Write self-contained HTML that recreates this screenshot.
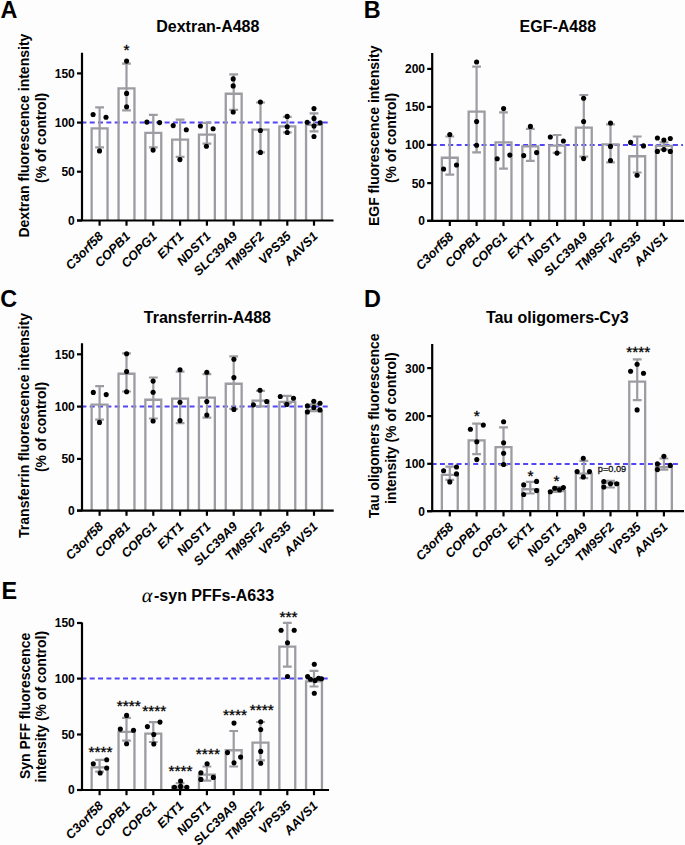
<!DOCTYPE html>
<html><head><meta charset="utf-8"><style>
html,body{margin:0;padding:0;background:#fdfdfd;}
svg{display:block;}
text{font-family:"Liberation Sans",sans-serif;}
.bar{fill:none;stroke:#9c9ca2;stroke-width:2.3;}
.err{fill:none;stroke:#9c9ca2;stroke-width:2.2;}
.dash{stroke:#5246f6;stroke-width:2.0;stroke-dasharray:5.0 3.32;}
.axis{fill:none;stroke:#000;stroke-width:2.2;}
circle{fill:#000;}
.tick{font-size:12px;font-weight:bold;text-anchor:end;}
.xl{font-size:12.7px;font-weight:bold;font-style:italic;text-anchor:end;}
.title{font-size:16px;font-weight:bold;text-anchor:middle;}
.letter{font-size:23.4px;font-weight:bold;}
.ylab{font-size:14px;font-weight:bold;text-anchor:middle;}
.star{font-size:15.5px;text-anchor:middle;stroke:#000;stroke-width:0.3px;}
.alpha{font-family:'Liberation Serif',serif;font-size:20px;}
.pv{font-size:9.2px;fill:#111;stroke:#111;stroke-width:0.3px;}
</style></head>
<body><svg width="685" height="845" viewBox="0 0 685 845">
<line x1="81.4" y1="122.6" x2="329" y2="122.6" class="dash"/>
<path d="M91.65 220.5V128.35H107.55V220.5" class="bar"/>
<path d="M118.55 220.5V88.45H134.45V220.5" class="bar"/>
<path d="M145.35 220.5V132.95H161.25V220.5" class="bar"/>
<path d="M172.15 220.5V139.65H188.05V220.5" class="bar"/>
<path d="M198.95 220.5V134.65H214.85V220.5" class="bar"/>
<path d="M225.75 220.5V93.75H241.65V220.5" class="bar"/>
<path d="M252.55 220.5V129.65H268.45V220.5" class="bar"/>
<path d="M279.35 220.5V126.45H295.25V220.5" class="bar"/>
<path d="M306.05 220.5V124.85H321.95V220.5" class="bar"/>
<path d="M99.6 107.3V147.4M95.2 107.3H104M95.2 147.4H104" class="err"/>
<path d="M126.5 63.6V110.4M122.1 63.6H130.9M122.1 110.4H130.9" class="err"/>
<path d="M153.3 114.9V147.4M148.9 114.9H157.7M148.9 147.4H157.7" class="err"/>
<path d="M180.1 119.6V156.8M175.7 119.6H184.5M175.7 156.8H184.5" class="err"/>
<path d="M206.9 122.8V143.7M202.5 122.8H211.3M202.5 143.7H211.3" class="err"/>
<path d="M233.7 74.3V109.9M229.3 74.3H238.1M229.3 109.9H238.1" class="err"/>
<path d="M260.5 102.5V152.4M256.1 102.5H264.9M256.1 152.4H264.9" class="err"/>
<path d="M287.3 116.9V132.3M282.9 116.9H291.7M282.9 132.3H291.7" class="err"/>
<path d="M314 113.4V131.3M309.6 113.4H318.4M309.6 131.3H318.4" class="err"/>
<circle cx="93.1" cy="114.5" r="2.55"/>
<circle cx="106" cy="117.2" r="2.55"/>
<circle cx="99.5" cy="150.9" r="2.55"/>
<circle cx="126.6" cy="61.1" r="2.55"/>
<circle cx="126.6" cy="93.4" r="2.55"/>
<circle cx="126.6" cy="106.7" r="2.55"/>
<text x="126.6" y="54.7" class="star">*</text>
<circle cx="146.9" cy="122.1" r="2.55"/>
<circle cx="159.6" cy="122.6" r="2.55"/>
<circle cx="153.1" cy="150.1" r="2.55"/>
<circle cx="173.2" cy="125.6" r="2.55"/>
<circle cx="186.3" cy="129.8" r="2.55"/>
<circle cx="179.9" cy="159.6" r="2.55"/>
<circle cx="200.4" cy="126" r="2.55"/>
<circle cx="213.1" cy="128.8" r="2.55"/>
<circle cx="206.4" cy="146.2" r="2.55"/>
<circle cx="233.2" cy="78.9" r="2.55"/>
<circle cx="233.2" cy="85.9" r="2.55"/>
<circle cx="233.2" cy="112" r="2.55"/>
<circle cx="260.4" cy="102" r="2.55"/>
<circle cx="260.4" cy="130.5" r="2.55"/>
<circle cx="260.4" cy="152.4" r="2.55"/>
<circle cx="287.2" cy="116.4" r="2.55"/>
<circle cx="287.2" cy="126.8" r="2.55"/>
<circle cx="287.2" cy="132.5" r="2.55"/>
<circle cx="314" cy="108.6" r="2.55"/>
<circle cx="314" cy="118.4" r="2.55"/>
<circle cx="307.2" cy="122.3" r="2.55"/>
<circle cx="320.2" cy="122.8" r="2.55"/>
<circle cx="314" cy="126" r="2.55"/>
<circle cx="314" cy="136.5" r="2.55"/>
<path d="M82 52.8V220.5M77 220.5H333.5" class="axis"/>
<path d="M77 220.5H82" class="axis"/>
<text x="74.8" y="224.9" class="tick">0</text>
<path d="M77 171.7H82" class="axis"/>
<text x="74.8" y="176.1" class="tick">50</text>
<path d="M77 122.6H82" class="axis"/>
<text x="74.8" y="127" class="tick">100</text>
<path d="M77 73.4H82" class="axis"/>
<text x="74.8" y="77.8" class="tick">150</text>
<path d="M99.6 220.5V225.7" class="axis"/>
<text transform="translate(104.1 237.1) rotate(-45)" class="xl">C3orf58</text>
<path d="M126.5 220.5V225.7" class="axis"/>
<text transform="translate(131 237.1) rotate(-45)" class="xl">COPB1</text>
<path d="M153.3 220.5V225.7" class="axis"/>
<text transform="translate(157.8 237.1) rotate(-45)" class="xl">COPG1</text>
<path d="M180.1 220.5V225.7" class="axis"/>
<text transform="translate(184.6 237.1) rotate(-45)" class="xl">EXT1</text>
<path d="M206.9 220.5V225.7" class="axis"/>
<text transform="translate(211.4 237.1) rotate(-45)" class="xl">NDST1</text>
<path d="M233.7 220.5V225.7" class="axis"/>
<text transform="translate(238.2 237.1) rotate(-45)" class="xl">SLC39A9</text>
<path d="M260.5 220.5V225.7" class="axis"/>
<text transform="translate(265 237.1) rotate(-45)" class="xl">TM9SF2</text>
<path d="M287.3 220.5V225.7" class="axis"/>
<text transform="translate(291.8 237.1) rotate(-45)" class="xl">VPS35</text>
<path d="M314 220.5V225.7" class="axis"/>
<text transform="translate(318.5 237.1) rotate(-45)" class="xl">AAVS1</text>
<text x="207.8" y="31.7" class="title">Dextran-A488</text>
<text x="0.6" y="17.8" class="letter">A</text>
<text transform="translate(29 135.6) rotate(-90)" class="ylab">Dextran fluorescence intensity</text>
<text transform="translate(45.5 137.9) rotate(-90)" class="ylab">(% of control)</text>
<line x1="431.6" y1="144.9" x2="683" y2="144.9" class="dash"/>
<path d="M441.85 220.8V157.75H457.75V220.8" class="bar"/>
<path d="M468.65 220.8V111.55H484.55V220.8" class="bar"/>
<path d="M495.55 220.8V142.35H511.45V220.8" class="bar"/>
<path d="M522.35 220.8V146.35H538.25V220.8" class="bar"/>
<path d="M549.15 220.8V145.55H565.05V220.8" class="bar"/>
<path d="M575.85 220.8V127.65H591.75V220.8" class="bar"/>
<path d="M602.55 220.8V144.35H618.45V220.8" class="bar"/>
<path d="M629.25 220.8V156.25H645.15V220.8" class="bar"/>
<path d="M655.95 220.8V145.85H671.85V220.8" class="bar"/>
<path d="M449.8 136.5V174.7M445.4 136.5H454.2M445.4 174.7H454.2" class="err"/>
<path d="M476.6 66.7V152.4M472.2 66.7H481M472.2 152.4H481" class="err"/>
<path d="M503.5 112.4V168.7M499.1 112.4H507.9M499.1 168.7H507.9" class="err"/>
<path d="M530.3 128.8V160.8M525.9 128.8H534.7M525.9 160.8H534.7" class="err"/>
<path d="M557.1 135V152.9M552.7 135H561.5M552.7 152.9H561.5" class="err"/>
<path d="M583.8 95V156.6M579.4 95H588.2M579.4 156.6H588.2" class="err"/>
<path d="M610.5 124.3V162.3M606.1 124.3H614.9M606.1 162.3H614.9" class="err"/>
<path d="M637.2 136.5V172.5M632.8 136.5H641.6M632.8 172.5H641.6" class="err"/>
<path d="M663.9 142.4V149.6M659.5 142.4H668.3M659.5 149.6H668.3" class="err"/>
<circle cx="449.8" cy="134.5" r="2.55"/>
<circle cx="443.6" cy="169" r="2.55"/>
<circle cx="456.5" cy="165" r="2.55"/>
<circle cx="476.6" cy="62" r="2.55"/>
<circle cx="476.6" cy="121.6" r="2.55"/>
<circle cx="476.6" cy="145.2" r="2.55"/>
<circle cx="503.6" cy="108.6" r="2.55"/>
<circle cx="497.2" cy="158.8" r="2.55"/>
<circle cx="509.8" cy="155.1" r="2.55"/>
<circle cx="530.4" cy="126.4" r="2.55"/>
<circle cx="523.7" cy="155.6" r="2.55"/>
<circle cx="536.6" cy="152.6" r="2.55"/>
<circle cx="550.3" cy="137" r="2.55"/>
<circle cx="563.4" cy="141" r="2.55"/>
<circle cx="557" cy="153.1" r="2.55"/>
<circle cx="583.6" cy="98.3" r="2.55"/>
<circle cx="583.6" cy="121.5" r="2.55"/>
<circle cx="583.6" cy="158.6" r="2.55"/>
<circle cx="610.5" cy="123" r="2.55"/>
<circle cx="610.5" cy="146.4" r="2.55"/>
<circle cx="610.5" cy="160.5" r="2.55"/>
<circle cx="630.6" cy="142.4" r="2.55"/>
<circle cx="643.5" cy="145.9" r="2.55"/>
<circle cx="637.1" cy="175.2" r="2.55"/>
<circle cx="657.4" cy="138" r="2.55"/>
<circle cx="663.9" cy="140" r="2.55"/>
<circle cx="670.3" cy="138.5" r="2.55"/>
<circle cx="657.4" cy="151.4" r="2.55"/>
<circle cx="663.9" cy="149.6" r="2.55"/>
<circle cx="670.3" cy="151.4" r="2.55"/>
<path d="M432.2 52.9V220.8M427.2 220.8H684" class="axis"/>
<path d="M427.2 220.8H432.2" class="axis"/>
<text x="425" y="225.2" class="tick">0</text>
<path d="M427.2 183.1H432.2" class="axis"/>
<text x="425" y="187.5" class="tick">50</text>
<path d="M427.2 144.9H432.2" class="axis"/>
<text x="425" y="149.3" class="tick">100</text>
<path d="M427.2 106.9H432.2" class="axis"/>
<text x="425" y="111.3" class="tick">150</text>
<path d="M427.2 68.9H432.2" class="axis"/>
<text x="425" y="73.3" class="tick">200</text>
<path d="M449.8 220.8V226" class="axis"/>
<text transform="translate(454.3 237.4) rotate(-45)" class="xl">C3orf58</text>
<path d="M476.6 220.8V226" class="axis"/>
<text transform="translate(481.1 237.4) rotate(-45)" class="xl">COPB1</text>
<path d="M503.5 220.8V226" class="axis"/>
<text transform="translate(508 237.4) rotate(-45)" class="xl">COPG1</text>
<path d="M530.3 220.8V226" class="axis"/>
<text transform="translate(534.8 237.4) rotate(-45)" class="xl">EXT1</text>
<path d="M557.1 220.8V226" class="axis"/>
<text transform="translate(561.6 237.4) rotate(-45)" class="xl">NDST1</text>
<path d="M583.8 220.8V226" class="axis"/>
<text transform="translate(588.3 237.4) rotate(-45)" class="xl">SLC39A9</text>
<path d="M610.5 220.8V226" class="axis"/>
<text transform="translate(615 237.4) rotate(-45)" class="xl">TM9SF2</text>
<path d="M637.2 220.8V226" class="axis"/>
<text transform="translate(641.7 237.4) rotate(-45)" class="xl">VPS35</text>
<path d="M663.9 220.8V226" class="axis"/>
<text transform="translate(668.4 237.4) rotate(-45)" class="xl">AAVS1</text>
<text x="557.8" y="31.7" class="title">EGF-A488</text>
<text x="363.8" y="17.8" class="letter">B</text>
<text transform="translate(379.1 135.8) rotate(-90)" class="ylab">EGF fluorescence intensity</text>
<text transform="translate(395.8 138) rotate(-90)" class="ylab">(% of control)</text>
<line x1="81.4" y1="406.5" x2="329" y2="406.5" class="dash"/>
<path d="M91.65 510.6V404.65H107.55V510.6" class="bar"/>
<path d="M118.55 510.6V373.75H134.45V510.6" class="bar"/>
<path d="M145.35 510.6V399.75H161.25V510.6" class="bar"/>
<path d="M172.15 510.6V398.65H188.05V510.6" class="bar"/>
<path d="M198.95 510.6V397.65H214.85V510.6" class="bar"/>
<path d="M225.75 510.6V383.75H241.65V510.6" class="bar"/>
<path d="M252.55 510.6V400.65H268.45V510.6" class="bar"/>
<path d="M279.35 510.6V401.85H295.25V510.6" class="bar"/>
<path d="M306.05 510.6V411.05H321.95V510.6" class="bar"/>
<path d="M99.6 386.2V419.7M95.2 386.2H104M95.2 419.7H104" class="err"/>
<path d="M126.5 353.4V391.5M122.1 353.4H130.9M122.1 391.5H130.9" class="err"/>
<path d="M153.3 377.5V418.5M148.9 377.5H157.7M148.9 418.5H157.7" class="err"/>
<path d="M180.1 371.7V423.1M175.7 371.7H184.5M175.7 423.1H184.5" class="err"/>
<path d="M206.9 374.2V417.6M202.5 374.2H211.3M202.5 417.6H211.3" class="err"/>
<path d="M233.7 356.3V408.9M229.3 356.3H238.1M229.3 408.9H238.1" class="err"/>
<path d="M260.5 390.8V406.4M256.1 390.8H264.9M256.1 406.4H264.9" class="err"/>
<path d="M287.3 395.8V403.2M282.9 395.8H291.7M282.9 403.2H291.7" class="err"/>
<path d="M314 404.4V410.1M309.6 404.4H318.4M309.6 410.1H318.4" class="err"/>
<circle cx="93.3" cy="392.4" r="2.55"/>
<circle cx="106.2" cy="394.6" r="2.55"/>
<circle cx="99.5" cy="422.4" r="2.55"/>
<circle cx="126.6" cy="353.7" r="2.55"/>
<circle cx="126.6" cy="371.6" r="2.55"/>
<circle cx="126.6" cy="391.8" r="2.55"/>
<circle cx="153.1" cy="381.1" r="2.55"/>
<circle cx="153.1" cy="392.3" r="2.55"/>
<circle cx="153.1" cy="421" r="2.55"/>
<circle cx="180" cy="369.7" r="2.55"/>
<circle cx="180" cy="402.2" r="2.55"/>
<circle cx="180" cy="420.6" r="2.55"/>
<circle cx="206.8" cy="372.2" r="2.55"/>
<circle cx="206.8" cy="401.5" r="2.55"/>
<circle cx="206.8" cy="415.1" r="2.55"/>
<circle cx="233.9" cy="359.3" r="2.55"/>
<circle cx="233.9" cy="377.6" r="2.55"/>
<circle cx="233.9" cy="409.4" r="2.55"/>
<circle cx="260" cy="390.3" r="2.55"/>
<circle cx="253.5" cy="404.9" r="2.55"/>
<circle cx="266.7" cy="401.5" r="2.55"/>
<circle cx="280.3" cy="396.5" r="2.55"/>
<circle cx="293.5" cy="398.2" r="2.55"/>
<circle cx="286.8" cy="404.4" r="2.55"/>
<circle cx="313.8" cy="401.2" r="2.55"/>
<circle cx="307.4" cy="405.9" r="2.55"/>
<circle cx="320" cy="403.2" r="2.55"/>
<circle cx="313.8" cy="407.4" r="2.55"/>
<circle cx="307.4" cy="411.9" r="2.55"/>
<circle cx="320" cy="409.9" r="2.55"/>
<path d="M82 343.3V510.6M77 510.6H333.7" class="axis"/>
<path d="M77 510.6H82" class="axis"/>
<text x="74.8" y="515" class="tick">0</text>
<path d="M77 458.9H82" class="axis"/>
<text x="74.8" y="463.3" class="tick">50</text>
<path d="M77 406.6H82" class="axis"/>
<text x="74.8" y="411" class="tick">100</text>
<path d="M77 354.3H82" class="axis"/>
<text x="74.8" y="358.7" class="tick">150</text>
<path d="M99.6 510.6V515.8" class="axis"/>
<text transform="translate(104.1 527.2) rotate(-45)" class="xl">C3orf58</text>
<path d="M126.5 510.6V515.8" class="axis"/>
<text transform="translate(131 527.2) rotate(-45)" class="xl">COPB1</text>
<path d="M153.3 510.6V515.8" class="axis"/>
<text transform="translate(157.8 527.2) rotate(-45)" class="xl">COPG1</text>
<path d="M180.1 510.6V515.8" class="axis"/>
<text transform="translate(184.6 527.2) rotate(-45)" class="xl">EXT1</text>
<path d="M206.9 510.6V515.8" class="axis"/>
<text transform="translate(211.4 527.2) rotate(-45)" class="xl">NDST1</text>
<path d="M233.7 510.6V515.8" class="axis"/>
<text transform="translate(238.2 527.2) rotate(-45)" class="xl">SLC39A9</text>
<path d="M260.5 510.6V515.8" class="axis"/>
<text transform="translate(265 527.2) rotate(-45)" class="xl">TM9SF2</text>
<path d="M287.3 510.6V515.8" class="axis"/>
<text transform="translate(291.8 527.2) rotate(-45)" class="xl">VPS35</text>
<path d="M314 510.6V515.8" class="axis"/>
<text transform="translate(318.5 527.2) rotate(-45)" class="xl">AAVS1</text>
<text x="207.4" y="322.7" class="title">Transferrin-A488</text>
<text x="0.3" y="306.9" class="letter">C</text>
<text transform="translate(29 425.5) rotate(-90)" class="ylab">Transferrin fluorescence intensity</text>
<text transform="translate(45.6 427) rotate(-90)" class="ylab">(% of control)</text>
<line x1="431.6" y1="463.9" x2="679" y2="463.9" class="dash"/>
<path d="M441.85 511.2V474.85H457.75V511.2" class="bar"/>
<path d="M468.65 511.2V440.35H484.55V511.2" class="bar"/>
<path d="M495.55 511.2V447.05H511.45V511.2" class="bar"/>
<path d="M522.35 511.2V489.25H538.25V511.2" class="bar"/>
<path d="M549.15 511.2V491.15H565.05V511.2" class="bar"/>
<path d="M575.85 511.2V473.65H591.75V511.2" class="bar"/>
<path d="M602.55 511.2V483.15H618.45V511.2" class="bar"/>
<path d="M629.25 511.2V381.55H645.15V511.2" class="bar"/>
<path d="M655.95 511.2V467.05H671.85V511.2" class="bar"/>
<path d="M449.8 466.7V479.9M445.4 466.7H454.2M445.4 479.9H454.2" class="err"/>
<path d="M476.6 423.6V454.1M472.2 423.6H481M472.2 454.1H481" class="err"/>
<path d="M503.5 427.3V465M499.1 427.3H507.9M499.1 465H507.9" class="err"/>
<path d="M530.3 481.9V493.5M525.9 481.9H534.7M525.9 493.5H534.7" class="err"/>
<path d="M557.1 487V492M552.7 487H561.5M552.7 492H561.5" class="err"/>
<path d="M583.8 460.8V478.2M579.4 460.8H588.2M579.4 478.2H588.2" class="err"/>
<path d="M610.5 480.8V487.5M606.1 480.8H614.9M606.1 487.5H614.9" class="err"/>
<path d="M637.2 359.3V400.2M632.8 359.3H641.6M632.8 400.2H641.6" class="err"/>
<path d="M663.9 458.5V469.6M659.5 458.5H668.3M659.5 469.6H668.3" class="err"/>
<circle cx="443.6" cy="470.7" r="2.55"/>
<circle cx="456.5" cy="467" r="2.55"/>
<circle cx="456.5" cy="473.9" r="2.55"/>
<circle cx="449.8" cy="481.9" r="2.55"/>
<circle cx="470.4" cy="429.3" r="2.55"/>
<circle cx="483.3" cy="425.1" r="2.55"/>
<circle cx="476.8" cy="441.7" r="2.55"/>
<circle cx="476.8" cy="459.6" r="2.55"/>
<text x="476.8" y="420.9" class="star">*</text>
<circle cx="503.6" cy="421.8" r="2.55"/>
<circle cx="503.6" cy="442.7" r="2.55"/>
<circle cx="503.6" cy="453.3" r="2.55"/>
<circle cx="503.6" cy="464.5" r="2.55"/>
<circle cx="523.7" cy="484.9" r="2.55"/>
<circle cx="536.6" cy="481.4" r="2.55"/>
<circle cx="536.6" cy="490.6" r="2.55"/>
<circle cx="523.7" cy="494.5" r="2.55"/>
<text x="530.4" y="481.2" class="star">*</text>
<circle cx="550.3" cy="491.8" r="2.55"/>
<circle cx="554.7" cy="488.3" r="2.55"/>
<circle cx="559.5" cy="489.8" r="2.55"/>
<circle cx="563.4" cy="487.6" r="2.55"/>
<text x="556.5" y="486.2" class="star">*</text>
<circle cx="583.3" cy="458.3" r="2.55"/>
<circle cx="577.1" cy="471.5" r="2.55"/>
<circle cx="589.5" cy="471.5" r="2.55"/>
<circle cx="583.3" cy="476.9" r="2.55"/>
<circle cx="603.8" cy="481.5" r="2.55"/>
<circle cx="610.5" cy="483.8" r="2.55"/>
<circle cx="616.7" cy="483.8" r="2.55"/>
<circle cx="603.8" cy="487" r="2.55"/>
<circle cx="637.1" cy="364.2" r="2.55"/>
<circle cx="630.6" cy="371.2" r="2.55"/>
<circle cx="643.5" cy="373.2" r="2.55"/>
<circle cx="637.1" cy="409.9" r="2.55"/>
<text x="638.3" y="356.7" class="star">****</text>
<circle cx="663.9" cy="456.2" r="2.55"/>
<circle cx="657.4" cy="463.9" r="2.55"/>
<circle cx="670.3" cy="465.4" r="2.55"/>
<circle cx="657.4" cy="469.6" r="2.55"/>
<path d="M432.2 344V511.2M427.2 511.2H684" class="axis"/>
<path d="M427.2 511.2H432.2" class="axis"/>
<text x="425" y="515.6" class="tick">0</text>
<path d="M427.2 463.8H432.2" class="axis"/>
<text x="425" y="468.2" class="tick">100</text>
<path d="M427.2 416.1H432.2" class="axis"/>
<text x="425" y="420.5" class="tick">200</text>
<path d="M427.2 368.1H432.2" class="axis"/>
<text x="425" y="372.5" class="tick">300</text>
<path d="M449.8 511.2V516.4" class="axis"/>
<text transform="translate(454.3 527.8) rotate(-45)" class="xl">C3orf58</text>
<path d="M476.6 511.2V516.4" class="axis"/>
<text transform="translate(481.1 527.8) rotate(-45)" class="xl">COPB1</text>
<path d="M503.5 511.2V516.4" class="axis"/>
<text transform="translate(508 527.8) rotate(-45)" class="xl">COPG1</text>
<path d="M530.3 511.2V516.4" class="axis"/>
<text transform="translate(534.8 527.8) rotate(-45)" class="xl">EXT1</text>
<path d="M557.1 511.2V516.4" class="axis"/>
<text transform="translate(561.6 527.8) rotate(-45)" class="xl">NDST1</text>
<path d="M583.8 511.2V516.4" class="axis"/>
<text transform="translate(588.3 527.8) rotate(-45)" class="xl">SLC39A9</text>
<path d="M610.5 511.2V516.4" class="axis"/>
<text transform="translate(615 527.8) rotate(-45)" class="xl">TM9SF2</text>
<path d="M637.2 511.2V516.4" class="axis"/>
<text transform="translate(641.7 527.8) rotate(-45)" class="xl">VPS35</text>
<path d="M663.9 511.2V516.4" class="axis"/>
<text transform="translate(668.4 527.8) rotate(-45)" class="xl">AAVS1</text>
<text x="557.3" y="322.7" class="title">Tau oligomers-Cy3</text>
<text x="364" y="306.9" class="letter">D</text>
<text transform="translate(379.2 425.9) rotate(-90)" class="ylab">Tau oligomers fluorescence</text>
<text transform="translate(395.8 428.2) rotate(-90)" class="ylab">intensity (% of control)</text>
<line x1="81.4" y1="678.4" x2="330" y2="678.4" class="dash"/>
<path d="M91.65 790V767.45H107.55V790" class="bar"/>
<path d="M118.55 790V731.95H134.45V790" class="bar"/>
<path d="M145.35 790V733.65H161.25V790" class="bar"/>
<path d="M172.15 790V786.75H188.05V790" class="bar"/>
<path d="M198.95 790V774.55H214.85V790" class="bar"/>
<path d="M225.75 790V750.25H241.65V790" class="bar"/>
<path d="M252.55 790V742.65H268.45V790" class="bar"/>
<path d="M279.35 790V646.65H295.25V790" class="bar"/>
<path d="M306.05 790V681.35H321.95V790" class="bar"/>
<path d="M99.6 759.8V771.7M95.2 759.8H104M95.2 771.7H104" class="err"/>
<path d="M126.5 717.9V740.7M122.1 717.9H130.9M122.1 740.7H130.9" class="err"/>
<path d="M153.3 722.1V742M148.9 722.1H157.7M148.9 742H157.7" class="err"/>
<path d="M180.1 783.1V789M175.7 783.1H184.5M175.7 789H184.5" class="err"/>
<path d="M206.9 766.5V780.6M202.5 766.5H211.3M202.5 780.6H211.3" class="err"/>
<path d="M233.7 731V766.5M229.3 731H238.1M229.3 766.5H238.1" class="err"/>
<path d="M260.5 722V760.3M256.1 722H264.9M256.1 760.3H264.9" class="err"/>
<path d="M287.3 622.9V666.6M282.9 622.9H291.7M282.9 666.6H291.7" class="err"/>
<path d="M314 670.9V686.5M309.6 670.9H318.4M309.6 686.5H318.4" class="err"/>
<circle cx="93.3" cy="763.8" r="2.55"/>
<circle cx="106.7" cy="759.8" r="2.55"/>
<circle cx="106.7" cy="768" r="2.55"/>
<circle cx="100.2" cy="773" r="2.55"/>
<text x="100.5" y="756.7" class="star">****</text>
<circle cx="126.6" cy="715.4" r="2.55"/>
<circle cx="120.3" cy="729.1" r="2.55"/>
<circle cx="133.5" cy="730.3" r="2.55"/>
<circle cx="126.6" cy="743.7" r="2.55"/>
<text x="128.8" y="711.3" class="star">****</text>
<circle cx="160" cy="722.1" r="2.55"/>
<circle cx="147.4" cy="726.6" r="2.55"/>
<circle cx="153.8" cy="734.5" r="2.55"/>
<circle cx="153.8" cy="744" r="2.55"/>
<text x="154.3" y="715.8" class="star">****</text>
<circle cx="180.6" cy="781.1" r="2.55"/>
<circle cx="174.4" cy="787.3" r="2.55"/>
<circle cx="180.6" cy="786.4" r="2.55"/>
<circle cx="186.8" cy="787.3" r="2.55"/>
<text x="180.6" y="776" class="star">****</text>
<circle cx="207.1" cy="763.8" r="2.55"/>
<circle cx="200.9" cy="772.7" r="2.55"/>
<circle cx="200.9" cy="779.4" r="2.55"/>
<circle cx="213.3" cy="777.4" r="2.55"/>
<text x="207.9" y="758.7" class="star">****</text>
<circle cx="234" cy="723.1" r="2.55"/>
<circle cx="227.5" cy="752.6" r="2.55"/>
<circle cx="240.6" cy="757.1" r="2.55"/>
<circle cx="234" cy="762.8" r="2.55"/>
<text x="235" y="719.7" class="star">****</text>
<circle cx="260.7" cy="721.7" r="2.55"/>
<circle cx="260.7" cy="729.6" r="2.55"/>
<circle cx="260.7" cy="751.4" r="2.55"/>
<circle cx="260.7" cy="763.3" r="2.55"/>
<text x="261.7" y="714.8" class="star">****</text>
<circle cx="281.1" cy="630.3" r="2.55"/>
<circle cx="294.2" cy="630.3" r="2.55"/>
<circle cx="287.5" cy="642.8" r="2.55"/>
<circle cx="287.5" cy="676.5" r="2.55"/>
<text x="288.5" y="621.5" class="star">***</text>
<circle cx="314.3" cy="664.2" r="2.55"/>
<circle cx="307.6" cy="676.6" r="2.55"/>
<circle cx="310.5" cy="679.2" r="2.55"/>
<circle cx="315" cy="680.6" r="2.55"/>
<circle cx="318.6" cy="678.2" r="2.55"/>
<circle cx="321.5" cy="678.8" r="2.55"/>
<circle cx="314.3" cy="693.2" r="2.55"/>
<path d="M82 622.5V790M77 790H329" class="axis"/>
<path d="M77 790H82" class="axis"/>
<text x="74.8" y="794.4" class="tick">0</text>
<path d="M77 734.5H82" class="axis"/>
<text x="74.8" y="738.9" class="tick">50</text>
<path d="M77 678.6H82" class="axis"/>
<text x="74.8" y="683" class="tick">100</text>
<path d="M77 623H82" class="axis"/>
<text x="74.8" y="627.4" class="tick">150</text>
<path d="M99.6 790V795.2" class="axis"/>
<text transform="translate(104.1 806.6) rotate(-45)" class="xl">C3orf58</text>
<path d="M126.5 790V795.2" class="axis"/>
<text transform="translate(131 806.6) rotate(-45)" class="xl">COPB1</text>
<path d="M153.3 790V795.2" class="axis"/>
<text transform="translate(157.8 806.6) rotate(-45)" class="xl">COPG1</text>
<path d="M180.1 790V795.2" class="axis"/>
<text transform="translate(184.6 806.6) rotate(-45)" class="xl">EXT1</text>
<path d="M206.9 790V795.2" class="axis"/>
<text transform="translate(211.4 806.6) rotate(-45)" class="xl">NDST1</text>
<path d="M233.7 790V795.2" class="axis"/>
<text transform="translate(238.2 806.6) rotate(-45)" class="xl">SLC39A9</text>
<path d="M260.5 790V795.2" class="axis"/>
<text transform="translate(265 806.6) rotate(-45)" class="xl">TM9SF2</text>
<path d="M287.3 790V795.2" class="axis"/>
<text transform="translate(291.8 806.6) rotate(-45)" class="xl">VPS35</text>
<path d="M314 790V795.2" class="axis"/>
<text transform="translate(318.5 806.6) rotate(-45)" class="xl">AAVS1</text>
<text transform="translate(141.0 602.2) skewX(-10)" class="alpha">α</text>
<text x="154.0" y="601.2" class="title" style="text-anchor:start">-syn PFFs-A633</text>
<text x="1.4" y="598.9" class="letter">E</text>
<text transform="translate(29.5 705.9) rotate(-90)" class="ylab">Syn PFF fluorescence</text>
<text transform="translate(45.8 706.7) rotate(-90)" class="ylab">intensity (% of control)</text>
<text x="597.8" y="472.3" class="pv">p=0.09</text>
</svg></body></html>
